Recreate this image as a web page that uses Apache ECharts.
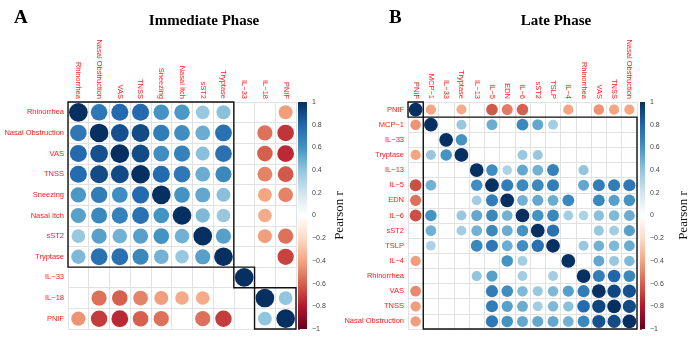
<!DOCTYPE html>
<html>
<head>
<meta charset="utf-8">
<script src="https://cdn.jsdelivr.net/npm/echarts@6/dist/echarts.min.js"></script>
<style>
  html, body { margin: 0; padding: 0; background: #fff; }
  #chart { width: 691px; height: 337px; }
</style>
</head>
<body>
<div id="chart"></div>
<script>
// Immediate phase (panel A)
const labelsA = ["Rhinorrhea", "Nasal Obstruction", "VAS", "TNSS", "Sneezing", "Nasal Itch", "sST2", "Tryptase", "IL\u221233", "IL\u221218", "PNIF"];
const matrixA = [
  [1, 0.72, 0.78, 0.78, 0.6, 0.58, 0.38, 0.42, null, null, -0.42],
  [0.72, 1, 0.88, 0.9, 0.7, 0.62, 0.5, 0.75, null, -0.55, -0.72],
  [0.78, 0.88, 1, 0.9, 0.62, 0.68, 0.42, 0.75, null, -0.6, -0.75],
  [0.78, 0.9, 0.9, 1, 0.78, 0.72, 0.5, 0.65, null, -0.5, -0.62],
  [0.58, 0.7, 0.62, 0.78, 1, 0.6, 0.52, 0.42, null, -0.4, -0.5],
  [0.55, 0.65, 0.68, 0.75, 0.6, 1, 0.45, 0.38, null, -0.38, null],
  [0.38, 0.55, 0.48, 0.55, 0.6, 0.48, 1, 0.55, null, -0.42, -0.55],
  [0.45, 0.75, 0.75, 0.65, 0.48, 0.38, 0.55, 1, null, null, -0.68],
  [null, null, null, null, null, null, null, null, 1, null, null],
  [null, -0.55, -0.6, -0.5, -0.42, -0.38, -0.38, null, null, 1, 0.4],
  [-0.45, -0.7, -0.75, -0.6, -0.55, null, -0.55, -0.7, null, 0.4, 1],
];
const clustersA = [[0, 7], [8, 8], [9, 10]];

// Late phase (panel B)
const labelsB = ["PNIF", "MCP\u22121", "IL\u221233", "Tryptase", "IL\u221213", "IL\u22125", "EDN", "IL\u22126", "sST2", "TSLP", "IL\u22124", "Rhinorrhea", "VAS", "TNSS", "Nasal Obstruction"];
const matrixB = [
  [1, -0.4, null, -0.38, null, -0.62, -0.52, -0.6, null, null, -0.4, null, -0.45, -0.4, -0.4],
  [-0.45, 1, null, 0.38, null, 0.5, null, 0.65, 0.52, 0.35, null, null, null, null, null],
  [null, null, 1, 0.6, null, null, null, null, null, null, null, null, null, null, null],
  [-0.4, 0.38, 0.6, 1, null, null, null, 0.38, 0.38, null, null, null, null, null, null],
  [null, null, null, null, 1, 0.62, 0.32, 0.52, 0.48, 0.68, null, 0.4, null, null, null],
  [-0.65, 0.48, null, null, 0.62, 1, 0.7, 0.65, 0.65, 0.7, null, 0.52, 0.7, 0.7, 0.72],
  [-0.55, null, null, null, 0.35, 0.7, 1, 0.48, 0.52, 0.5, 0.65, null, 0.65, 0.55, 0.6],
  [-0.65, 0.6, null, 0.38, 0.52, 0.65, 0.48, 1, 0.6, 0.65, 0.35, 0.32, 0.42, 0.45, 0.5],
  [null, 0.48, null, 0.35, 0.48, 0.65, 0.5, 0.6, 1, 0.75, null, null, 0.38, 0.35, 0.55],
  [null, 0.32, null, null, 0.65, 0.72, 0.5, 0.62, 0.75, 1, null, 0.38, 0.48, 0.45, 0.5],
  [-0.42, null, null, null, null, null, 0.6, 0.35, null, null, 1, null, 0.52, 0.38, 0.45],
  [null, null, null, null, 0.4, 0.55, null, 0.35, null, 0.35, null, 1, 0.7, 0.8, 0.65],
  [-0.48, null, null, null, null, 0.7, 0.62, 0.45, 0.38, 0.45, 0.55, 0.7, 1, 0.92, 0.88],
  [-0.42, null, null, null, null, 0.7, 0.55, 0.5, 0.35, 0.45, 0.42, 0.78, 0.92, 1, 0.9],
  [-0.42, null, null, null, null, 0.72, 0.6, 0.52, 0.52, 0.52, 0.48, 0.65, 0.88, 0.9, 1],
];
const clustersB = [[0, 0], [1, 14]];

const colorbarTicks = [-1, -0.8, -0.6, -0.4, -0.2, 0, 0.2, 0.4, 0.6, 0.8, 1];
const rdbu = ["#67001F", "#B2182B", "#D6604D", "#F4A582", "#FDDBC7", "#FFFFFF", "#D1E5F0", "#92C5DE", "#4393C3", "#2166AC", "#053061"];

const LABEL_RED = "#ff1a1a";
const GRID_GRAY = "#e2e2e2";
const CELL_A = 228 / 11;
const CELL_B = 229 / 15;

function toPoints(matrix) {
  const out = [];
  matrix.forEach((row, i) => row.forEach((v, j) => { if (v !== null) out.push([j, i, v]); }));
  return out;
}

function circleSize(cell) {
  return (val) => cell * 0.9 * Math.sqrt(0.25 + 0.75 * Math.abs(val[2]));
}

function catAxis(labels, isX, gridIndex) {
  return {
    type: "category",
    gridIndex,
    data: labels,
    position: isX ? "top" : "left",
    inverse: !isX,
    axisLine: { show: false },
    axisTick: { show: false },
    axisLabel: {
      interval: 0,
      rotate: isX ? 90 : 0,
      color: LABEL_RED,
      fontSize: 7.5,
      fontFamily: "Liberation Sans",
      margin: isX ? 3 : 4,
    },
    splitLine: { show: true, interval: 0, lineStyle: { color: GRID_GRAY, width: 1 } },
  };
}

function clusterBoxes(clusters, gridIndex) {
  return {
    type: "custom",
    xAxisIndex: gridIndex,
    yAxisIndex: gridIndex,
    clip: false,
    silent: true,
    z: 5,
    data: clusters,
    renderItem: (params, api) => {
      const a = api.coord([api.value(0), api.value(0)]);
      const b = api.coord([api.value(1), api.value(1)]);
      const s = api.size([1, 1]);
      return {
        type: "rect",
        shape: { x: a[0] - s[0] / 2, y: a[1] - s[1] / 2, width: b[0] - a[0] + s[0], height: b[1] - a[1] + s[1] },
        style: { fill: "none", stroke: "#111", lineWidth: 1.4 },
      };
    },
  };
}

function colorbar(gridIndex) {
  return {
    type: "custom",
    xAxisIndex: gridIndex,
    yAxisIndex: gridIndex,
    silent: true,
    data: [[0, 1]],
    renderItem: (params, api) => {
      const top = api.coord([0, 1]);
      const bottom = api.coord([1, -1]);
      return {
        type: "rect",
        shape: { x: top[0], y: top[1], width: bottom[0] - top[0], height: bottom[1] - top[1] },
        style: {
          fill: new echarts.graphic.LinearGradient(0, 0, 0, 1,
            rdbu.slice().reverse().map((c, k) => ({ offset: k / (rdbu.length - 1), color: c }))),
        },
      };
    },
  };
}

function colorbarAxes(gridIndex, nameGap) {
  return {
    x: { type: "value", gridIndex, min: 0, max: 1, show: false },
    y: {
      type: "value",
      gridIndex,
      position: "right",
      min: colorbarTicks[0],
      max: colorbarTicks[colorbarTicks.length - 1],
      interval: 0.2,
      axisLine: { show: false },
      axisTick: { show: true, length: 2, lineStyle: { color: "#666" } },
      axisLabel: {
        color: "#444",
        fontSize: 7,
        fontFamily: "Liberation Sans",
        margin: 5,
        formatter: (v) => String(Math.round(v * 10) / 10).replace("-", "\u2212"),
      },
      splitLine: { show: false },
      name: "Pearson r",
      nameLocation: "middle",
      nameRotate: 90,
      nameGap,
      nameTextStyle: { fontFamily: "Liberation Serif", fontSize: 13, color: "#111" },
    },
  };
}

const cbA = colorbarAxes(2, 26);
const cbB = colorbarAxes(3, 32);

const chart = echarts.init(document.getElementById("chart"));
chart.setOption({
  animation: false,
  backgroundColor: "#fff",
  title: [
    { text: "A", left: 9, top: 4, textStyle: { fontFamily: "Liberation Serif", fontWeight: "bold", fontSize: 19, color: "#000" } },
    { text: "Immediate Phase", left: 199, top: 9, textAlign: "center", textStyle: { fontFamily: "Liberation Serif", fontWeight: "bold", fontSize: 15, color: "#000" } },
    { text: "B", left: 384, top: 4, textStyle: { fontFamily: "Liberation Serif", fontWeight: "bold", fontSize: 19, color: "#000" } },
    { text: "Late Phase", left: 551, top: 9, textAlign: "center", textStyle: { fontFamily: "Liberation Serif", fontWeight: "bold", fontSize: 15, color: "#000" } },
  ],
  grid: [
    { left: 68, top: 102, width: 228, height: 227 },
    { left: 408, top: 102, width: 229, height: 227 },
    { left: 298, top: 102, width: 9, height: 227 },
    { left: 640, top: 102, width: 8, height: 227 },
  ],
  xAxis: [catAxis(labelsA, true, 0), catAxis(labelsB, true, 1), cbA.x, cbB.x],
  yAxis: [catAxis(labelsA, false, 0), catAxis(labelsB, false, 1), cbA.y, cbB.y],
  visualMap: {
    show: false,
    type: "continuous",
    min: -1,
    max: 1,
    dimension: 2,
    seriesIndex: [0, 1],
    inRange: { color: rdbu },
  },
  series: [
    { type: "scatter", xAxisIndex: 0, yAxisIndex: 0, data: toPoints(matrixA), symbolSize: circleSize(CELL_A), itemStyle: { opacity: 1 } },
    { type: "scatter", xAxisIndex: 1, yAxisIndex: 1, data: toPoints(matrixB), symbolSize: circleSize(CELL_B), itemStyle: { opacity: 1 } },
    clusterBoxes(clustersA, 0),
    clusterBoxes(clustersB, 1),
    colorbar(2),
    colorbar(3),
  ],
});
</script>
</body>
</html>
